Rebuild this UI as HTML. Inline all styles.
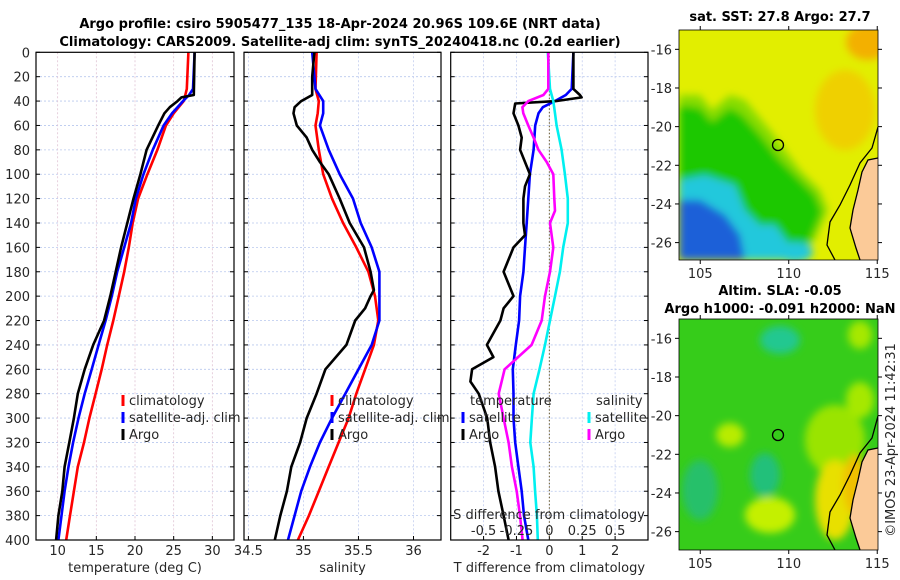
<!DOCTYPE html>
<html><head><meta charset="utf-8">
<style>
body{margin:0;background:#fff;}
svg{display:block;font-family:"DejaVu Sans","Liberation Sans",sans-serif;}
.tk{font-size:13px;fill:#262626;}
.tt{font-size:13px;font-weight:bold;fill:#000;}
</style></head>
<body>
<svg id="fig" width="900" height="580" viewBox="0 0 900 580" xmlns="http://www.w3.org/2000/svg">
<rect width="900" height="580" fill="#fff"/>
<text class="tt" x="340" y="28" text-anchor="middle">Argo profile: csiro 5905477_135 18-Apr-2024 20.96S 109.6E (NRT data)</text>
<text class="tt" x="340" y="46" text-anchor="middle">Climatology: CARS2009. Satellite-adj clim: synTS_20240418.nc (0.2d earlier)</text>

<!-- SST map -->
<g>
<text class="tt" x="780" y="21" text-anchor="middle">sat. SST: 27.8 Argo: 27.7</text>
<defs>
<clipPath id="c1"><rect x="679" y="30" width="199" height="230"/></clipPath>
<clipPath id="c2"><rect x="679" y="319" width="199" height="231"/></clipPath>
<filter id="bl" x="-20%" y="-20%" width="140%" height="140%"><feGaussianBlur stdDeviation="4"/></filter>
</defs>
<g clip-path="url(#c1)">
<rect x="679" y="30" width="199" height="230" fill="#e2ee00"/>
<g filter="url(#bl)">
<ellipse cx="868" cy="42" rx="22" ry="18" fill="#f3b000"/>
<ellipse cx="845" cy="110" rx="30" ry="40" fill="#efd000"/>
<path d="M679 95 L700 95 L712 110 L730 95 L745 100 L770 130 L785 150 L800 170 L820 190 L828 210 L815 240 L800 260 L679 260 Z" fill="#86dc00"/>
<path d="M679 105 L700 108 L712 122 L730 108 L742 115 L760 135 L778 158 L795 175 L815 195 L822 212 L810 240 L800 260 L679 260 Z" fill="#1ec800"/>
<path d="M679 180 L705 175 L735 185 L745 210 L760 225 L775 225 L790 245 L800 260 L679 260 Z" fill="#20c8dc"/>
<path d="M679 200 L700 200 L725 215 L740 235 L745 260 L679 260 Z" fill="#1b60d8"/>
<ellipse cx="795" cy="252" rx="18" ry="10" fill="#20c8dc"/>
</g>
<path d="M878 158 L868 160 L862 170 L858 190 L853 210 L850 228 L856 248 L860 260 L878 260 Z" fill="#fbca98"/>
<path d="M878 127 L872 148 L860 163 L850 185 L840 205 L830 222 L827 245 L835 260" fill="none" stroke="#000" stroke-width="1.3"/>
<path d="M878 158 L868 160 L862 172 L858 190 L853 210 L850 228 L856 248 L860 260" fill="none" stroke="#000" stroke-width="1.3"/>
<circle cx="778" cy="145" r="5.5" fill="none" stroke="#000" stroke-width="1.3"/>
</g>
<rect x="679" y="30" width="199" height="230" fill="none" stroke="#000" stroke-width="0.8"/>
</g>

<!-- SLA map -->
<g>
<text class="tt" x="780" y="295" text-anchor="middle">Altim. SLA: -0.05</text>
<text class="tt" x="780" y="313" text-anchor="middle">Argo h1000: -0.091 h2000: NaN</text>
<g clip-path="url(#c2)">
<rect x="679" y="319" width="199" height="231" fill="#36cc1a"/>
<g filter="url(#bl)">
<ellipse cx="780" cy="340" rx="20" ry="14" fill="#20c890"/>
<ellipse cx="765" cy="475" rx="15" ry="22" fill="#22c07a"/>
<ellipse cx="730" cy="435" rx="14" ry="12" fill="#b8ec00"/>
<ellipse cx="770" cy="515" rx="25" ry="18" fill="#c4f000"/>
<ellipse cx="835" cy="440" rx="30" ry="35" fill="#9ae400"/>
<ellipse cx="860" cy="400" rx="14" ry="18" fill="#a6e800"/>
<ellipse cx="860" cy="335" rx="12" ry="14" fill="#a6e800"/>
<ellipse cx="835" cy="500" rx="20" ry="40" fill="#e8e000"/>
<ellipse cx="855" cy="485" rx="12" ry="30" fill="#f0c000"/>
<ellipse cx="700" cy="490" rx="18" ry="30" fill="#26c06a"/>
</g>
<path d="M878 448 L868 450 L862 462 L858 480 L853 500 L850 518 L856 538 L860 550 L878 550 Z" fill="#fbca98"/>
<path d="M878 416 L872 438 L860 453 L850 475 L840 495 L830 512 L827 535 L835 550" fill="none" stroke="#000" stroke-width="1.3"/>
<path d="M878 448 L868 450 L862 462 L858 480 L853 500 L850 518 L856 538 L860 550" fill="none" stroke="#000" stroke-width="1.3"/>
<circle cx="778" cy="435" r="5.5" fill="none" stroke="#000" stroke-width="1.3"/>
</g>
<rect x="679" y="319" width="199" height="231" fill="none" stroke="#000" stroke-width="0.8"/>
</g>
<text class="tk" transform="translate(895,440) rotate(-90)" text-anchor="middle">©IMOS 23-Apr-2024 11:42:31</text>
<g id="plots"></g>
</svg>
<script>
// ---- Temperature panel data ----
const tDepth = [0,30,35,40,50,60,80,100,120,140,160,180,200,220,240,260,280,300,320,340,360,380,400];
const tClim = [26.9,26.7,26.5,26.3,25.0,24.0,22.9,21.6,20.4,19.7,19.2,18.6,17.9,17.2,16.4,15.7,14.9,14.1,13.4,12.6,12.1,11.6,11.1];
const tSat = [27.7,27.5,27.0,26.2,24.8,23.7,22.3,21.1,20.1,19.5,18.6,17.7,17.0,16.2,15.3,14.4,13.5,12.7,12.0,11.4,10.9,10.5,10.1];
const tArgoDepth = [0,35,37,40,45,50,60,80,100,120,140,160,180,200,220,240,260,280,300,320,340,360,380,400];
const tArgo = [27.7,27.6,26.0,25.5,24.5,23.8,23.0,21.5,20.7,19.8,19.0,18.2,17.5,16.8,16.0,14.6,13.5,12.6,12.1,11.5,10.9,10.6,10.1,9.8];
const tTicks = [10,15,20,25,30];
// ---- Salinity panel data ----
const sDepth = [0,30,40,50,60,80,100,120,140,160,180,200,220,240,260,280,300,320,340,360,380,400];
const sClim = [35.12,35.11,35.14,35.13,35.11,35.14,35.18,35.26,35.36,35.48,35.59,35.65,35.68,35.64,35.56,35.48,35.41,35.32,35.23,35.14,35.05,34.95];
const sSat = [35.08,35.11,35.18,35.18,35.15,35.23,35.33,35.45,35.52,35.62,35.69,35.69,35.69,35.62,35.50,35.38,35.26,35.15,35.06,34.98,34.92,34.86];
const sArgoDepth = [0,20,35,40,45,50,60,70,80,90,100,120,140,160,180,195,200,210,220,240,260,280,300,320,340,360,380,400];
const sArgo = [35.10,35.08,35.08,34.98,34.92,34.91,34.94,35.03,35.08,35.15,35.23,35.33,35.42,35.55,35.61,35.64,35.61,35.56,35.47,35.39,35.20,35.12,35.03,34.97,34.89,34.85,34.79,34.74];
const sTicks = [34.5,35,35.5,36];
const sTickLabels = ['34.5','35','35.5','36'];
// ---- Difference panel data ----
const dtSatDepth = [0,30,35,40,45,50,60,80,100,120,140,160,180,200,220,240,260,280,300,320,340,360,380,400];
const dtSat = [0.73,0.68,0.5,0.17,-0.2,-0.33,-0.43,-0.48,-0.59,-0.64,-0.69,-0.74,-0.79,-0.89,-0.92,-1.02,-1.11,-1.09,-1.09,-1.04,-0.94,-0.84,-0.77,-0.64];
const dtArgoDepth = [0,30,35,37,40,42,50,60,70,80,90,100,110,120,140,150,160,180,200,210,220,240,250,260,270,280,300,320,340,360,380,400];
const dtArgo = [0.73,0.73,0.93,0.98,0.2,-1.04,-1.09,-0.94,-0.84,-0.89,-0.74,-0.59,-0.74,-0.79,-0.79,-0.74,-1.09,-1.39,-1.09,-1.39,-1.49,-1.9,-1.7,-2.35,-2.4,-2.15,-1.89,-1.8,-1.65,-1.55,-1.39,-1.24];
const dsSatDepth = [0,30,40,50,60,80,100,120,140,160,180,200,220,240,260,280,300,320,340,360,380,400];
const dsSat = [-0.012,0.005,0.03,0.043,0.055,0.093,0.118,0.14,0.14,0.105,0.08,0.043,0.005,-0.033,-0.075,-0.12,-0.133,-0.145,-0.12,-0.108,-0.095,-0.088];
const dsArgoDepth = [0,30,35,40,45,50,60,70,80,90,100,120,130,140,160,180,200,220,240,260,280,300,320,340,360,380,400];
const dsArgo = [-0.008,-0.008,-0.045,-0.16,-0.205,-0.198,-0.16,-0.12,-0.083,-0.02,0.03,0.038,0.043,0.005,0.03,0.005,-0.033,-0.058,-0.135,-0.34,-0.385,-0.348,-0.31,-0.285,-0.248,-0.223,-0.203];
const dtTicks = [-2,-1,0,1,2];
const dsTicks = [-0.5,-0.25,0,0.25,0.5];
const dsTickLabels = ['-0.5','-0.25','0','0.25','0.5'];
const depthTicks = [0,20,40,60,80,100,120,140,160,180,200,220,240,260,280,300,320,340,360,380,400];

const NS='http://www.w3.org/2000/svg';
const root=document.getElementById('plots');
function mk(tag,attrs,parent){const e=document.createElementNS(NS,tag);for(const k in attrs)e.setAttribute(k,attrs[k]);(parent||root).appendChild(e);return e;}
const Y0=52.3,Y1=540;
function yScale(d){return Y0+(d/400)*(Y1-Y0);}

function panel(name,x0,x1,dmin,dmax,ticks,labels,xlabel,vgrid){
  const g=mk('g',{});
  
  
  const xs=v=>x0+(v-dmin)/(dmax-dmin)*(x1-x0);
  depthTicks.forEach(d=>{const y=yScale(d);
    if(d>0&&d<400){const l=mk('line',{x1:x0,x2:x1,y1:y,y2:y,stroke:'#b8c8ee','stroke-width':0.8,'stroke-dasharray':'2,2'},g);
    }
    mk('line',{x1:x0,x2:x0+4,y1:y,y2:y,stroke:'#000','stroke-width':1},g);
    mk('line',{x1:x1-4,x2:x1,y1:y,y2:y,stroke:'#000','stroke-width':1},g);
  });
  ticks.forEach((v,i)=>{const x=xs(v);
    const l=mk('line',{x1:x,x2:x,y1:Y0,y2:Y1,stroke:vgrid,'stroke-width':0.8,'stroke-dasharray':'2,2'},g);
    
    mk('line',{x1:x,x2:x,y1:Y1-4,y2:Y1,stroke:'#000','stroke-width':1},g);
    const t=mk('text',{x:x,y:555,'text-anchor':'middle',class:'tk'},g);t.textContent=labels[i];
    
  });
  const xl=mk('text',{x:(x0+x1)/2,y:572,'text-anchor':'middle',class:'tk'},g);xl.textContent=xlabel;
  
  return {g,xs};
}
function series(p,name,depths,vals,color,scale){
  const pts=depths.map((d,i)=>p.xs(vals[i]*(scale||1)).toFixed(1)+','+yScale(d).toFixed(1)).join(' ');
  const l=mk('polyline',{points:pts,fill:'none',stroke:color,'stroke-width':2.6,'stroke-linejoin':'round'},p.g);
  
  
}
function frame(p,x0,x1){mk('rect',{x:x0,y:Y0,width:x1-x0,height:Y1-Y0,fill:'none',stroke:'#000','stroke-width':1.2},p.g);}
function legend(p,x,y,color,label,name){
  mk('line',{x1:x,x2:x,y1:y-10,y2:y+1,stroke:color,'stroke-width':3},p.g);
  const t=mk('text',{x:x+6,y:y,class:'tk'},p.g);t.textContent=label;
  
}

// Panel 1
const p1=panel('temperature',36,234,7.2,32.8,tTicks,tTicks.map(String),'temperature (deg C)','#e0c4d4');
depthTicks.forEach(d=>{const t=mk('text',{x:30,y:yScale(d)+5,'text-anchor':'end',class:'tk'},p1.g);t.textContent=d;
  });
series(p1,'temp-climatology-line',tDepth,tClim,'#ff0000');
series(p1,'temp-satellite-line',tDepth,tSat,'#0000ff');
series(p1,'temp-argo-line',tArgoDepth,tArgo,'#000000');
frame(p1,36,234);
legend(p1,123,405,'#ff0000','climatology','legend-climatology');
legend(p1,123,422,'#0000ff','satellite-adj. clim','legend-satellite');
legend(p1,123,439,'#000000','Argo','legend-argo');

// Panel 2
const p2=panel('salinity',244,441,34.46,36.25,sTicks,sTickLabels,'salinity','#c4cef0');
series(p2,'sal-climatology-line',sDepth,sClim,'#ff0000');
series(p2,'sal-satellite-line',sDepth,sSat,'#0000ff');
series(p2,'sal-argo-line',sArgoDepth,sArgo,'#000000');
frame(p2,244,441);
legend(p2,332,405,'#ff0000','climatology','legend-climatology-2');
legend(p2,332,422,'#0000ff','satellite-adj. clim','legend-satellite-2');
legend(p2,332,439,'#000000','Argo','legend-argo-2');

// Panel 3
const p3=panel('difference',450.7,648,-3,3,dtTicks,dtTicks.map(String),'T difference from climatology','#c4cef0');
const zx=p3.xs(0);
mk('line',{x1:zx,x2:zx,y1:Y0,y2:Y1,stroke:'#6b5a2a','stroke-width':1,'stroke-dasharray':'1.5,2'},p3.g);
series(p3,'dt-satellite-line',dtSatDepth,dtSat,'#0000ff');
series(p3,'dt-argo-line',dtArgoDepth,dtArgo,'#000000');
series(p3,'ds-satellite-line',dsSatDepth,dsSat,'#00f0f0',4);
series(p3,'ds-argo-line',dsArgoDepth,dsArgo,'#ff00ff',4);
frame(p3,450.7,648);
dsTicks.forEach((v,i)=>{const t=mk('text',{x:p3.xs(v*4),y:535,'text-anchor':'middle',class:'tk'},p3.g);t.textContent=dsTickLabels[i];
  });
const st=mk('text',{x:549,y:519,'text-anchor':'middle',class:'tk'},p3.g);st.textContent='S difference from climatology';

const th=mk('text',{x:470,y:405,class:'tk'},p3.g);th.textContent='temperature';

const sh=mk('text',{x:596,y:405,class:'tk'},p3.g);sh.textContent='salinity';

legend(p3,463,422,'#0000ff','satellite','legend-dt-satellite');
legend(p3,463,439,'#000000','Argo','legend-dt-argo');
legend(p3,589,422,'#00f0f0','satellite','legend-ds-satellite');
legend(p3,589,439,'#ff00ff','Argo','legend-ds-argo');

// Map axes ticks
function mapAxes(top,bot,latTop,latBot,name){
  const g=mk('g',{});
  
  
  const lx=l=>679+(l-103.8)*17.7;
  const ly=la=>top+(latTop-la)/(latTop-latBot)*(bot-top);
  [105,110,115].forEach(l=>{const x=lx(l);
    mk('line',{x1:x,x2:x,y1:bot,y2:bot+4,stroke:'#000'},g);
    mk('line',{x1:x,x2:x,y1:top-4,y2:top,stroke:'#000'},g);
    const t=mk('text',{x:x,y:bot+18,'text-anchor':'middle',class:'tk'},g);t.textContent=l;
    });
  [-16,-18,-20,-22,-24,-26].forEach(la=>{const y=ly(la);
    mk('line',{x1:675,x2:679,y1:y,y2:y,stroke:'#000'},g);
    mk('line',{x1:878,x2:882,y1:y,y2:y,stroke:'#000'},g);
    const t=mk('text',{x:672,y:y+5,'text-anchor':'end',class:'tk'},g);t.textContent=la;
    });
}
mapAxes(30,260,-15.0,-26.9,'sst-map');
mapAxes(319,550,-15.0,-26.95,'sla-map');
</script>
</body></html>
